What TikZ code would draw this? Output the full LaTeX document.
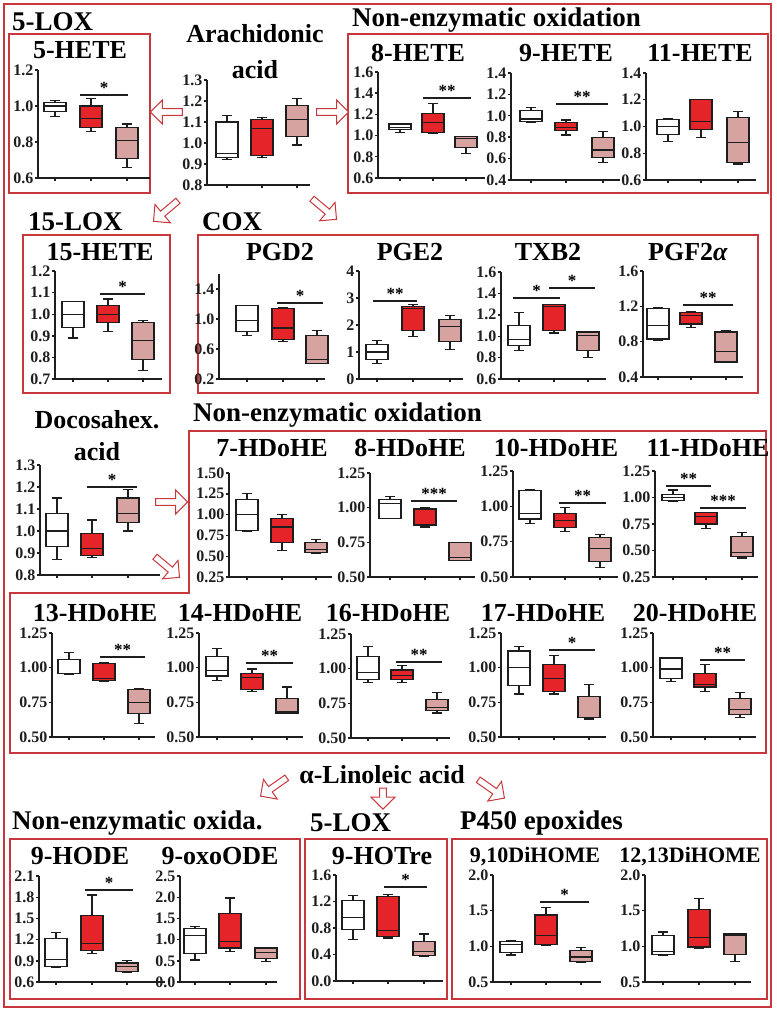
\documentclass[tikz,border=0pt]{standalone}
\usepackage{fontspec}
\setmainfont{Liberation Serif}
\usetikzlibrary{shapes.arrows}
\definecolor{frm}{RGB}{200,55,60}
\definecolor{redb}{RGB}{228,36,40}
\definecolor{pinkb}{RGB}{214,163,160}
\definecolor{ink}{RGB}{30,30,30}
\tikzset{
 ax/.style={draw=ink,line width=1.4pt},
 bxl/.style={draw=ink,line width=1.2pt},
 frame/.style={draw=frm,line width=1.3pt},
 tick/.style={font=\bfseries\fontsize{16}{16}\selectfont,inner sep=1pt,text=ink},
 ttl/.style={font=\bfseries\fontsize{26}{26}\selectfont,inner sep=0pt},
 hd/.style={font=\bfseries\fontsize{27}{27}\selectfont,inner sep=0pt,anchor=west},
 stt/.style={font=\bfseries\fontsize{17}{17}\selectfont,inner sep=0pt},
 arr/.style={single arrow,draw=frm,fill=white,line width=1pt,minimum height=32pt,minimum width=24pt,single arrow head extend=4pt,inner sep=1pt}
}
\newcommand\setax[7]{\gdef\ax{#1}\gdef\ya{#2}\gdef\yb{#3}\gdef\va{#4}\gdef\vb{#5}\gdef\xe{#6}\gdef\vt{#7}}
\newcommand\Y[1]{\ya+((#1)-\va)*(\yb-\ya)/(\vb-\va)}
\newcommand\axs[1]{\draw[ax] (\ax,{\Y{\vt}}) -- (\ax,{\Y{\va}}) -- (\xe,{\Y{\va}});
 \foreach \v/\l in {#1} {\draw[ax] (\ax,{\Y{\v}}) -- ++(-3,0) node[left,tick]{\l};}}
\newcommand\bx[7]{%
 \draw[bxl] (#1,{\Y{#3}}) -- (#1,{\Y{#4}}) (#1,{\Y{#6}}) -- (#1,{\Y{#7}});
 \draw[bxl] ({#1-5},{\Y{#3}}) -- ({#1+5},{\Y{#3}}) ({#1-5},{\Y{#7}}) -- ({#1+5},{\Y{#7}});
 \draw[bxl,fill=#2] ({#1-11},{\Y{#4}}) rectangle ({#1+11},{\Y{#6}});
 \draw[bxl] ({#1-11},{\Y{#5}}) -- ({#1+11},{\Y{#5}});
 \draw[ax] (#1,{\Y{\va}}) -- ++(0,3);}
\newcommand\sig[4]{\draw[ax] (#1,#3) -- (#2,#3); \node[stt,above] at ({(#1+#2)/2},#3-1) {#4};}
\begin{document}
\begin{tikzpicture}[x=1pt,y=-1pt]
\useasboundingbox (0,0) rectangle (776,1011);
\draw[frame,line width=1.6pt] (4,4) rectangle (771,1007);
% frames
\draw[frame] (9,34) rectangle (150,193);
\draw[frame] (348,34) rectangle (768,193);
\draw[frame] (23,235) rectangle (170,393);
\draw[frame] (198,235) rectangle (758,393);
\draw[frame] (189,431) -- (766,431) -- (766,753) -- (10,753) -- (10,593) -- (189,593) -- cycle;
\draw[frame] (10,839) rectangle (300,999);
\draw[frame] (305,839) rectangle (447,999);
\draw[frame] (452,839) rectangle (767,999);
% headings
\node[hd] (h1) at (12,22) {5-LOX};
\node[hd] (h2) at (352,20) {Non-enzymatic oxidation};
\node[hd] (h3) at (28,222) {15-LOX};
\node[hd] (h4) at (202,222) {COX};
\node[hd] (h5) at (193,415) {Non-enzymatic oxidation};
\node[hd] (h6) at (12,823) {Non-enzymatic oxida.};
\node[hd] (h7) at (310,823) {5-LOX};
\node[hd] (h8) at (460,823) {P450 epoxides};
\node[ttl,align=center] (aa) at (255,52) {Arachidonic\\[10pt]acid};
\node[ttl,align=center] (dha) at (97,436) {Docosahex.\\[6pt]acid};
\node[ttl] (ala) at (382,775) {α-Linoleic acid};
% arrows
\node[arr,shape border rotate=180] (a1) at (168,112) {};
\node[arr] (a2) at (331,112) {};
\node[arr,rotate=220] (a3) at (167,210) {};
\node[arr,rotate=-40] (a4) at (323,208) {};
\node[arr] (a5) at (170,502) {};
\node[arr,rotate=-40] (a6) at (166,566) {};
\node[arr,rotate=215] (a7) at (275,786) {};
\node[arr,rotate=-90,minimum height=21pt,minimum width=24pt] (a8) at (383,797) {};
\node[arr,rotate=-35] (a9) at (490,788) {};
% titles
\node[ttl] (t1) at (80,50) {5-HETE};
\node[ttl] (t2) at (418,53) {8-HETE};
\node[ttl] (t3) at (566,53) {9-HETE};
\node[ttl] (t4) at (700,53) {11-HETE};
\node[ttl] (t5) at (100,252) {15-HETE};
\node[ttl] (t6) at (280,252) {PGD2};
\node[ttl] (t7) at (410,252) {PGE2};
\node[ttl] (t8) at (548,252) {TXB2};
\node[ttl] (t9) at (688,252) {PGF2\textit{α}};
\node[ttl] (t10) at (272,448) {7-HDoHE};
\node[ttl] (t11) at (410,448) {8-HDoHE};
\node[ttl] (t12) at (556,448) {10-HDoHE};
\node[ttl] (t13) at (708,448) {11-HDoHE};
\node[ttl] (t14) at (95,613) {13-HDoHE};
\node[ttl] (t15) at (240,613) {14-HDoHE};
\node[ttl] (t16) at (388,613) {16-HDoHE};
\node[ttl] (t17) at (543,613) {17-HDoHE};
\node[ttl] (t18) at (695,613) {20-HDoHE};
\node[ttl] (t19) at (80,856) {9-HODE};
\node[ttl] (t20) at (220,856) {9-oxoODE};
\node[ttl] (t21) at (382,856) {9-HOTre};
\node[ttl,font=\bfseries\fontsize{22}{22}\selectfont] (t22) at (535,857) {9,10DiHOME};
\node[ttl,font=\bfseries\fontsize{22}{22}\selectfont] (t23) at (690,857) {12,13DiHOME};
% 5-HETE
\setax{38}{178}{70}{0.6}{1.2}{150}{1.2}
\axs{0.6/0.6,0.8/0.8,1.0/1.0,1.2/1.2}
\bx{55}{white}{.94}{.97}{1.0}{1.02}{1.03}
\bx{91}{redb}{.86}{.88}{.93}{1.0}{1.04}
\bx{127}{pinkb}{.66}{.71}{.81}{.88}{.90}
\sig{80}{128}{95}{*}
% AA
\setax{207}{185}{80}{0.8}{1.3}{310}{1.3}
\axs{0.8/0.8,0.9/0.9,1.0/1.0,1.1/1.1,1.2/1.2,1.3/1.3}
\bx{227}{white}{.92}{.93}{.95}{1.10}{1.13}
\bx{262}{redb}{.93}{.94}{1.07}{1.11}{1.12}
\bx{297}{pinkb}{.99}{1.03}{1.11}{1.18}{1.21}
% 8-HETE
\setax{378}{178}{72}{0.6}{1.6}{485}{1.6}
\axs{0.6/0.6,0.8/0.8,1.0/1.0,1.2/1.2,1.4/1.4,1.6/1.6}
\bx{400}{white}{1.03}{1.06}{1.08}{1.11}{1.11}
\bx{433}{redb}{1.02}{1.03}{1.12}{1.21}{1.30}
\bx{466}{pinkb}{.83}{.89}{.97}{.99}{.99}
\sig{423}{471}{98}{**}
% 9-HETE
\setax{511}{180}{73}{0.4}{1.4}{620}{1.4}
\axs{0.4/0.4,0.6/0.6,0.8/0.8,1.0/1.0,1.2/1.2,1.4/1.4}
\bx{531}{white}{.94}{.95}{.97}{1.05}{1.08}
\bx{566}{redb}{.82}{.86}{.89}{.94}{.96}
\bx{603}{pinkb}{.56}{.61}{.68}{.80}{.85}
\sig{556}{608}{104}{**}
% 11-HETE
\setax{646}{180}{73}{0.6}{1.4}{756}{1.4}
\axs{0.6/0.6,0.8/0.8,1.0/1.0,1.2/1.2,1.4/1.4}
\bx{668}{white}{.89}{.94}{1.0}{1.05}{1.06}
\bx{701}{redb}{.92}{.98}{1.04}{1.20}{1.20}
\bx{738}{pinkb}{.72}{.73}{.88}{1.07}{1.11}
% 15-HETE
\setax{55}{379}{271}{0.7}{1.2}{162}{1.2}
\axs{0.7/0.7,0.8/0.8,0.9/0.9,1.0/1.0,1.1/1.1,1.2/1.2}
\bx{73}{white}{.89}{.94}{1.0}{1.06}{1.06}
\bx{108}{redb}{.92}{.96}{1.0}{1.04}{1.07}
\bx{143}{pinkb}{.74}{.79}{.88}{.96}{.97}
\sig{100}{145}{294}{*}
% PGD2
\setax{219}{379}{289}{0.2}{1.4}{325}{1.6}
\axs{0.2/0.2,0.6/0.6,1.0/1.0,1.4/1.4}
\bx{247}{white}{.78}{.83}{.98}{1.18}{1.18}
\bx{283}{redb}{.70}{.73}{.88}{1.14}{1.15}
\bx{317}{pinkb}{.41}{.41}{.46}{.78}{.85}
\sig{277}{323}{303}{*}
% PGE2
\setax{359}{379}{271}{0}{4}{463}{4}
\axs{0/0,1/1,2/2,3/3,4/4}
\bx{377}{white}{.58}{.72}{1.0}{1.28}{1.42}
\bx{413}{redb}{1.57}{1.8}{2.6}{2.7}{2.75}
\bx{450}{pinkb}{1.08}{1.38}{1.95}{2.2}{2.35}
\sig{373}{417}{301}{**}
% TXB2
\setax{501}{379}{272}{0.6}{1.6}{606}{1.6}
\axs{0.6/0.6,0.8/0.8,1.0/1.0,1.2/1.2,1.4/1.4,1.6/1.6}
\bx{519}{white}{.87}{.91}{.97}{1.10}{1.22}
\bx{554}{redb}{1.03}{1.05}{1.28}{1.30}{1.30}
\bx{588}{pinkb}{.80}{.87}{1.01}{1.04}{1.04}
\sig{513}{560}{298}{*}
\sig{549}{595}{288}{*}
% PGF2a
\setax{643}{377}{271}{0.4}{1.6}{743}{1.6}
\axs{0.4/0.4,0.8/0.8,1.2/1.2,1.6/1.6}
\bx{658}{white}{.81}{.83}{.98}{1.18}{1.19}
\bx{691}{redb}{.96}{1.0}{1.1}{1.13}{1.14}
\bx{726}{pinkb}{.57}{.57}{.69}{.91}{.92}
\sig{683}{733}{305}{**}
% DHA
\setax{40}{575}{465}{0.8}{1.3}{160}{1.3}
\axs{0.8/0.8,0.9/0.9,1.0/1.0,1.1/1.1,1.2/1.2,1.3/1.3}
\bx{57}{white}{.87}{.93}{1.0}{1.08}{1.15}
\bx{92}{redb}{.88}{.89}{.92}{.99}{1.05}
\bx{128}{pinkb}{1.0}{1.04}{1.08}{1.15}{1.19}
\sig{87}{137}{487}{*}
% 7-HDoHE
\setax{229}{577}{473}{0.25}{1.5}{332}{1.5}
\axs{0.25/0.25,0.5/0.50,0.75/0.75,1.0/1.00,1.25/1.25,1.5/1.50}
\bx{247}{white}{.80}{.81}{1.0}{1.18}{1.25}
\bx{282}{redb}{.57}{.66}{.85}{.95}{1.0}
\bx{316}{pinkb}{.53}{.54}{.58}{.66}{.70}
% 8-HDoHE
\setax{370}{577}{473}{0.5}{1.25}{475}{1.25}
\axs{0.5/0.50,0.75/0.75,1.0/1.00,1.25/1.25}
\bx{390}{white}{.92}{.92}{1.03}{1.06}{1.08}
\bx{425}{redb}{.86}{.87}{.88}{.99}{1.0}
\bx{460}{pinkb}{.62}{.62}{.64}{.75}{.75}
\sig{411}{457}{501}{***}
% 10-HDoHE
\setax{513}{577}{471}{0.5}{1.25}{618}{1.25}
\axs{0.5/0.50,0.75/0.75,1.0/1.00,1.25/1.25}
\bx{530}{white}{.88}{.91}{.95}{1.11}{1.12}
\bx{565}{redb}{.82}{.85}{.90}{.95}{.99}
\bx{600}{pinkb}{.57}{.61}{.70}{.78}{.80}
\sig{559}{606}{503}{**}
% 11-HDoHE
\setax{655}{577}{471}{0.25}{1.25}{758}{1.25}
\axs{0.25/0.25,0.5/0.50,0.75/0.75,1.0/1.00,1.25/1.25}
\bx{673}{white}{.96}{.97}{1.0}{1.03}{1.07}
\bx{706}{redb}{.71}{.75}{.82}{.86}{.86}
\bx{742}{pinkb}{.43}{.44}{.48}{.63}{.67}
\sig{666}{711}{486}{**}
\sig{700}{746}{508}{***}
% 13-HDoHE
\setax{52}{737}{633}{0.5}{1.25}{155}{1.25}
\axs{0.5/0.50,0.75/0.75,1.0/1.00,1.25/1.25}
\bx{69}{white}{.95}{.96}{.96}{1.06}{1.11}
\bx{104}{redb}{.90}{.91}{.92}{1.03}{1.04}
\bx{139}{pinkb}{.60}{.67}{.75}{.84}{.85}
\sig{100}{145}{657}{**}
% 14-HDoHE
\setax{199}{737}{633}{0.5}{1.25}{303}{1.25}
\axs{0.5/0.50,0.75/0.75,1.0/1.00,1.25/1.25}
\bx{217}{white}{.91}{.94}{.98}{1.08}{1.14}
\bx{252}{redb}{.83}{.84}{.93}{.96}{.99}
\bx{287}{pinkb}{.67}{.67}{.68}{.78}{.86}
\sig{246}{293}{663}{**}
% 16-HDoHE
\setax{351}{738}{634}{0.5}{1.25}{450}{1.25}
\axs{0.5/0.50,0.75/0.75,1.0/1.00,1.25/1.25}
\bx{368}{white}{.90}{.92}{.97}{1.09}{1.16}
\bx{402}{redb}{.90}{.92}{.95}{.99}{1.02}
\bx{437}{pinkb}{.68}{.70}{.72}{.78}{.83}
\sig{396}{442}{662}{**}
% 17-HDoHE
\setax{501}{737}{633}{0.5}{1.25}{606}{1.25}
\axs{0.5/0.50,0.75/0.75,1.0/1.00,1.25/1.25}
\bx{519}{white}{.81}{.87}{1.0}{1.12}{1.15}
\bx{554}{redb}{.81}{.83}{.92}{1.02}{1.09}
\bx{589}{pinkb}{.63}{.64}{.64}{.79}{.88}
\sig{549}{595}{650}{*}
% 20-HDoHE
\setax{653}{737}{633}{0.5}{1.25}{756}{1.25}
\axs{0.5/0.50,0.75/0.75,1.0/1.00,1.25/1.25}
\bx{671}{white}{.90}{.92}{.99}{1.07}{1.07}
\bx{705}{redb}{.83}{.86}{.88}{.96}{1.02}
\bx{740}{pinkb}{.64}{.66}{.70}{.78}{.82}
\sig{700}{745}{660}{**}
% 9-HODE
\setax{39}{982}{876}{0.6}{2.1}{165}{2.1}
\axs{0.6/0.6,0.9/0.9,1.2/1.2,1.5/1.5,1.8/1.8,2.1/2.1}
\bx{56}{white}{.80}{.82}{.92}{1.22}{1.30}
\bx{92}{redb}{1.0}{1.05}{1.14}{1.54}{1.83}
\bx{127}{pinkb}{.74}{.75}{.82}{.87}{.91}
\sig{85}{133}{890}{*}
% 9-oxoODE
\setax{180}{982}{876}{0}{2.5}{277}{2.5}
\axs{0/0.0,0.5/0.5,1.0/1.0,1.5/1.5,2.0/2.0,2.5/2.5}
\bx{195}{white}{.52}{.68}{1.1}{1.27}{1.3}
\bx{230}{redb}{.72}{.80}{.95}{1.62}{1.98}
\bx{266}{pinkb}{.48}{.56}{.70}{.80}{.82}
% 9-HOTre
\setax{336}{981}{875}{0}{1.6}{443}{1.6}
\axs{0/0.0,0.4/0.4,0.8/0.8,1.2/1.2,1.6/1.6}
\bx{353}{white}{.63}{.78}{.96}{1.22}{1.29}
\bx{388}{redb}{.65}{.67}{.76}{1.27}{1.31}
\bx{424}{pinkb}{.37}{.38}{.45}{.60}{.71}
\sig{384}{427}{887}{*}
% 9,10DiHOME
\setax{493}{982}{875}{0.5}{2.0}{601}{2.0}
\axs{0.5/0.5,1.0/1.0,1.5/1.5,2.0/2.0}
\bx{511}{white}{.88}{.91}{1.03}{1.07}{1.08}
\bx{546}{redb}{1.02}{1.03}{1.15}{1.44}{1.55}
\bx{581}{pinkb}{.77}{.79}{.85}{.94}{.98}
\sig{540}{589}{902}{*}
% 12,13DiHOME
\setax{645}{982}{875}{0.5}{2.0}{751}{2.0}
\axs{0.5/0.5,1.0/1.0,1.5/1.5,2.0/2.0}
\bx{663}{white}{.87}{.89}{.93}{1.15}{1.2}
\bx{699}{redb}{.97}{.99}{1.12}{1.52}{1.67}
\bx{735}{pinkb}{.79}{.89}{1.16}{1.18}{1.18}
\end{tikzpicture}
\end{document}
